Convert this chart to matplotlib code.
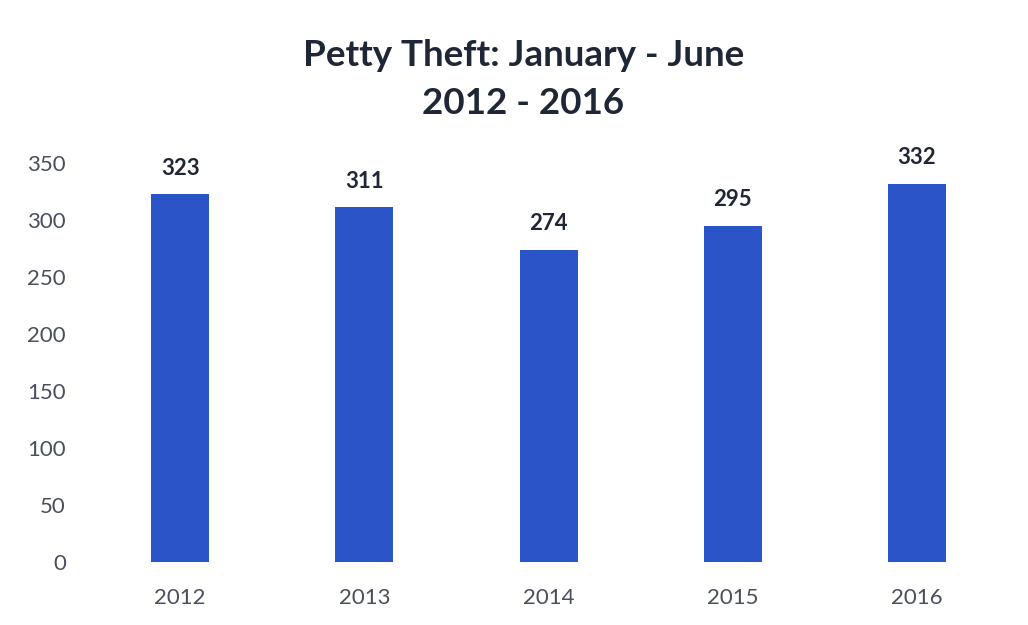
import matplotlib.pyplot as plt

years = ["2012", "2013", "2014", "2015", "2016"]
thefts = [323, 311, 274, 295, 332]
yticks = [0, 50, 100, 150, 200, 250, 300, 350]

BAR = "#2b54c9"
DARK = "#1f2636"
GREY = "#4a4f5e"

plt.rcParams["font.family"] = ["Lato", "DejaVu Sans"]

fig = plt.figure(figsize=(10.28, 6.25), dpi=100)
ax = fig.add_axes([0.0856, 0.1008, 0.896, 0.6384])

x = range(len(years))
bars = ax.bar(x, thefts, width=0.315, color=BAR)
for rect, v in zip(bars, thefts):
    ax.annotate(str(v), (rect.get_x() + rect.get_width() / 2, v),
                xytext=(0, 11), textcoords="offset points",
                ha="center", va="bottom", fontsize=16, fontweight="bold",
                color=DARK, annotation_clip=False)

ax.set_xlim(-0.5, len(years) - 0.5)
ax.set_ylim(0, 350)
ax.set_xticks(list(x))
ax.set_xticklabels(years)
ax.set_yticks(yticks)
ax.tick_params(length=0, labelsize=16, colors=GREY)
ax.tick_params(axis="y", pad=16)
ax.tick_params(axis="x", pad=19)
for s in ax.spines.values():
    s.set_visible(False)

fig.text(0.509, 0.912, "Petty Theft: January - June", ha="center", va="center",
         fontsize=26.5, fontweight="bold", color=DARK)
fig.text(0.509, 0.835, "2012 - 2016", ha="center", va="center",
         fontsize=26.5, fontweight="bold", color=DARK)

fig.savefig("out.png", dpi=100)
